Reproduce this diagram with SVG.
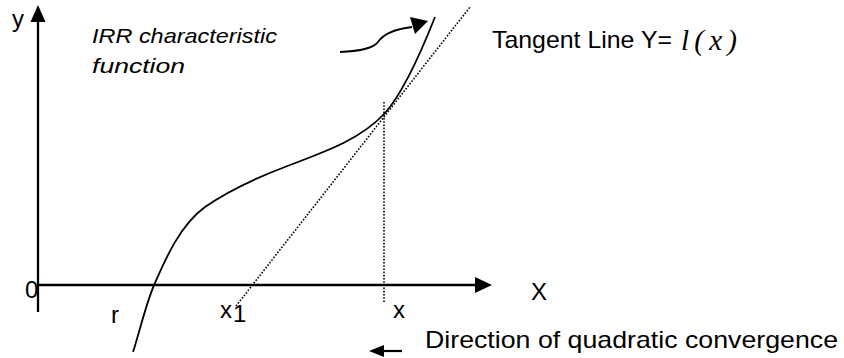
<svg xmlns="http://www.w3.org/2000/svg" width="844" height="358" viewBox="0 0 844 358">
<defs>
<style>
.t{font-family:"Liberation Sans",Arial,sans-serif;font-size:24px;fill:#000}
.it{font-family:"Liberation Sans",Arial,sans-serif;font-size:21px;font-style:italic;fill:#000}
.math{font-family:"Liberation Serif","Times New Roman",serif;font-style:italic;font-size:29px;fill:#000}
.ax{stroke:#000;stroke-width:2.3;fill:none}
.dot{stroke:#000;stroke-width:1.6;stroke-dasharray:1.6 1.6;fill:none}
.curve{stroke:#000;stroke-width:1.8;fill:none}
</style>
</defs>
<rect width="844" height="358" fill="#fff"/>
<g id="axes">
<line class="ax" x1="38" y1="312" x2="38" y2="20"/>
<polygon points="38,5 30.5,22 45.5,22" fill="#000"/>
<line class="ax" x1="38" y1="285" x2="477" y2="285"/>
<polygon points="492,285 475,277 475,293" fill="#000"/>
</g>
<g id="function-curve">
<path class="curve" d="M133,352 C140,330 147,300 155,283 C165,260 180,225 205,207 C225,193 250,180 290,165 C330,150 362,138 385,113 C401,95 420,55 435,17"/>
</g>
<g id="connectors">
<line class="dot" x1="236" y1="306" x2="470" y2="7"/>
<line class="dot" x1="384" y1="102" x2="384" y2="302"/>
<path class="curve" stroke-width="2.4" d="M340,52 C358,51 373,49 378,42 C384,33 395,29 412,27"/>
<polygon points="428,21 410,17 415,34" fill="#000"/>
<line stroke="#000" stroke-width="2.2" x1="402" y1="351" x2="382" y2="351"/>
<polygon points="369,351 384,345 384,357" fill="#000"/>
</g>
<g id="labels">
<text class="t" x="12" y="27" font-size="25">y</text>
<text class="t" x="25" y="298" font-size="22">0</text>
<text class="it" x="92" y="43" textLength="185" lengthAdjust="spacingAndGlyphs">IRR characteristic</text>
<text class="it" x="92" y="73" textLength="93" lengthAdjust="spacingAndGlyphs">function</text>
<text class="t" x="492" y="48" textLength="180" lengthAdjust="spacingAndGlyphs">Tangent Line Y=</text>
<text class="math" x="681" y="50" textLength="56" lengthAdjust="spacing">l(x)</text>
<text class="t" x="531" y="300">X</text>
<text class="t" x="111" y="323">r</text>
<text class="t" x="220" y="318">x</text>
<text class="t" x="233" y="322" font-size="14">1</text>
<text class="t" x="393" y="318" font-size="22">x</text>
<text class="t" x="425" y="348" font-size="23" textLength="413" lengthAdjust="spacingAndGlyphs">Direction of quadratic convergence</text>
</g>
</svg>
